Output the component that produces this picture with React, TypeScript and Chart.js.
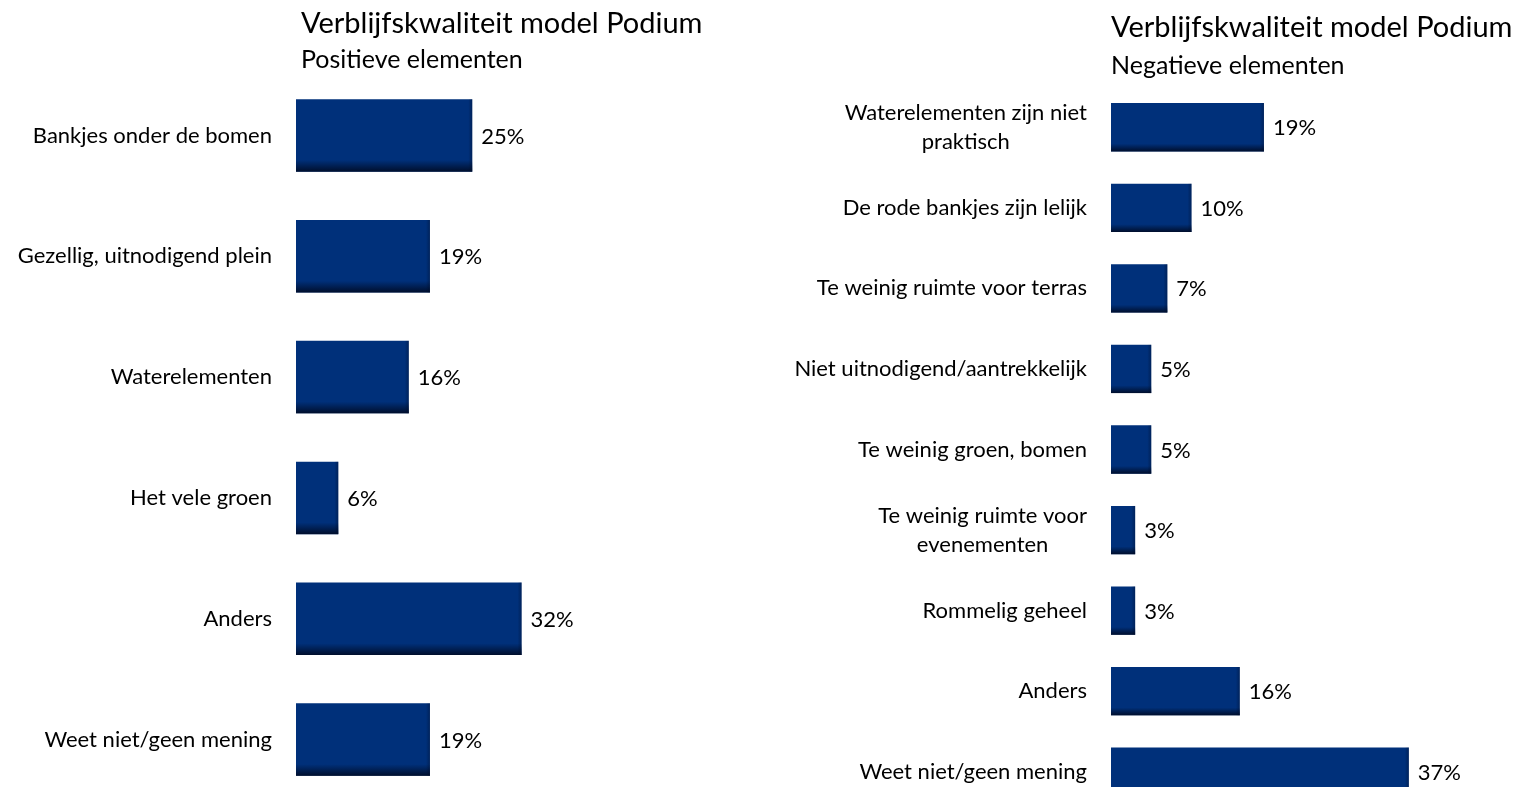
import React, { useEffect, useRef } from "react";
import { Chart, registerables } from "chart.js";

Chart.register(...registerables);

const FONT = "Lato, 'Open Sans', sans-serif";

const chartTitle = "Verblijfskwaliteit model Podium";
const positiveSubtitle = "Positieve elementen";
const negativeSubtitle = "Negatieve elementen";

const positiveCategories: (string | string[])[] = [
  "Bankjes onder de bomen",
  "Gezellig, uitnodigend plein",
  "Waterelementen",
  "Het vele groen",
  "Anders",
  "Weet niet/geen mening",
];
const positiveValues = [25, 19, 16, 6, 32, 19];

const negativeCategories: (string | string[])[] = [
  ["Waterelementen zijn niet", "praktisch"],
  "De rode bankjes zijn lelijk",
  "Te weinig ruimte voor terras",
  "Niet uitnodigend/aantrekkelijk",
  "Te weinig groen, bomen",
  ["Te weinig ruimte voor", "evenementen"],
  "Rommelig geheel",
  "Anders",
  "Weet niet/geen mening",
];
const negativeValues = [19, 10, 7, 5, 5, 3, 3, 16, 37];

const axisMax = 40;
const BAR_COLOR = "rgb(0,48,122)";

type PanelProps = {
  categories: (string | string[])[];
  values: number[];
  title: string;
  subtitle: string;
  left: number;
  width: number;
  height: number;
  axisWidth: number;
  padTop: number;
  padRight: number;
  titleDx: number;
  titleY: number;
  subtitleY: number;
  lineHeight: number;
};

const decorPlugin = {
  id: "decor",
  afterDatasetsDraw(chart: any, _args: any, opts: any) {
    const ctx: CanvasRenderingContext2D = chart.ctx;
    const meta = chart.getDatasetMeta(0);
    const ys = chart.scales.y;
    const area = chart.chartArea;
    const data = chart.data.datasets[0].data as number[];
    ctx.save();
    // bar shading + value labels
    meta.data.forEach((bar: any, i: number) => {
      const { x, y, base, height } = bar.getProps(["x", "y", "base", "height"], true);
      const top = y - height / 2;
      const g = ctx.createLinearGradient(0, top, 0, top + height);
      g.addColorStop(0, "rgba(0,8,30,0)");
      g.addColorStop(0.84, "rgba(0,8,30,0)");
      g.addColorStop(1, "rgba(0,8,30,0.85)");
      ctx.fillStyle = g;
      ctx.fillRect(base, top, x - base, height);
      const gs = ctx.createLinearGradient(x - 4, 0, x, 0);
      gs.addColorStop(0, "rgba(0,8,30,0)");
      gs.addColorStop(1, "rgba(0,8,30,0.35)");
      ctx.fillStyle = gs;
      ctx.fillRect(x - 4, top, 4, height);

      ctx.fillStyle = "#000";
      ctx.font = `22px ${FONT}`;
      ctx.textAlign = "left";
      ctx.textBaseline = "middle";
      ctx.fillText(`${data[i]}%`, x + 9, y + 1);
    });
    // category labels (multi-line centred within a right-aligned block)
    ctx.font = `22px ${FONT}`;
    ctx.fillStyle = "#000";
    ctx.textBaseline = "middle";
    ctx.textAlign = "center";
    const right = area.left - 24;
    (chart.data.labels as (string | string[])[]).forEach((lab, i) => {
      const lines = Array.isArray(lab) ? lab : [lab];
      const y = ys.getPixelForValue(i);
      const maxW = Math.max(...lines.map((l) => ctx.measureText(l).width));
      const cx = right - maxW / 2;
      const lh = opts.lineHeight;
      lines.forEach((l, k) => {
        ctx.fillText(l, cx, y + (k - (lines.length - 1) / 2) * lh);
      });
    });
    // titles
    ctx.textAlign = "left";
    ctx.textBaseline = "alphabetic";
    ctx.font = `29px ${FONT}`;
    ctx.fillText(opts.title, area.left + opts.titleDx, opts.titleY);
    ctx.font = `25px ${FONT}`;
    ctx.fillText(opts.subtitle, area.left + opts.titleDx, opts.subtitleY);
    ctx.restore();
  },
};

function BarPanel(p: PanelProps) {
  const ref = useRef<HTMLCanvasElement | null>(null);
  useEffect(() => {
    if (!ref.current) return;
    const chart = new Chart(ref.current, {
      type: "bar",
      data: {
        labels: p.categories as any,
        datasets: [
          {
            data: p.values,
            backgroundColor: BAR_COLOR,
            borderWidth: 0,
            barPercentage: 0.6,
            categoryPercentage: 1,
          },
        ],
      },
      options: {
        indexAxis: "y",
        responsive: false,
        animation: false,
        devicePixelRatio: 1,
        layout: { padding: { top: p.padTop, right: p.padRight, bottom: 0, left: 0 } },
        scales: {
          x: { display: false, min: 0, max: axisMax },
          y: {
            display: true,
            grid: { display: false },
            border: { display: false },
            ticks: { display: false },
            afterFit: (s: any) => {
              s.width = p.axisWidth;
            },
          },
        },
        plugins: {
          legend: { display: false },
          tooltip: { enabled: false },
          decor: {
            title: p.title,
            subtitle: p.subtitle,
            titleDx: p.titleDx,
            titleY: p.titleY,
            subtitleY: p.subtitleY,
            lineHeight: p.lineHeight,
          },
        } as any,
      },
      plugins: [decorPlugin],
    });
    return () => chart.destroy();
  }, []);
  return (
    <canvas
      ref={ref}
      width={p.width}
      height={p.height}
      style={{ position: "absolute", left: p.left, top: 0, width: p.width, height: p.height }}
    />
  );
}

export default function App() {
  return (
    <div
      style={{
        position: "fixed",
        left: 0,
        top: 0,
        width: 1514,
        height: 787,
        overflow: "hidden",
        background: "#fff",
      }}
    >
      <BarPanel
        categories={positiveCategories}
        values={positiveValues}
        title={chartTitle}
        subtitle={positiveSubtitle}
        left={0}
        width={760}
        height={800}
        axisWidth={296}
        padTop={75}
        padRight={760 - 296 - axisMax * 7.05}
        titleDx={5}
        titleY={33}
        subtitleY={68}
        lineHeight={29}
      />
      <BarPanel
        categories={negativeCategories}
        values={negativeValues}
        title={chartTitle}
        subtitle={negativeSubtitle}
        left={760}
        width={754}
        height={812}
        axisWidth={351}
        padTop={87}
        padRight={754 - 351 - axisMax * 8.05}
        titleDx={0}
        titleY={37}
        subtitleY={74}
        lineHeight={29}
      />
    </div>
  );
}
